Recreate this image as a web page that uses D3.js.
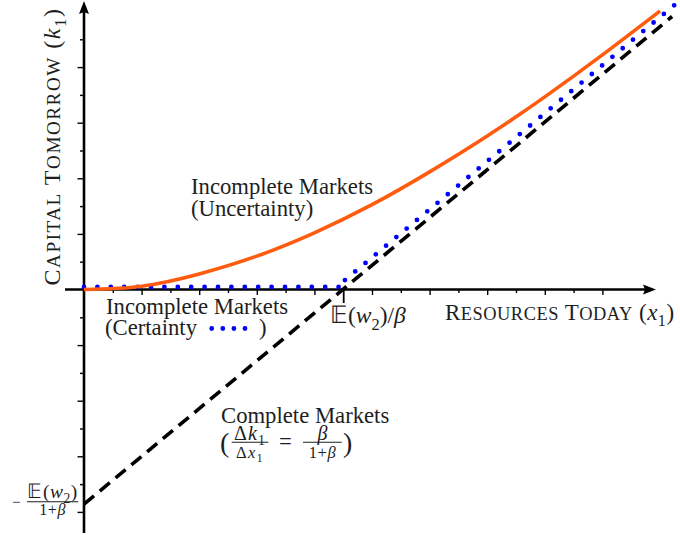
<!DOCTYPE html>
<html>
<head>
<meta charset="utf-8">
<script src="https://cdn.jsdelivr.net/npm/d3@7/dist/d3.min.js"></script>
<style>
  html, body { margin: 0; padding: 0; background: #fff; }
</style>
</head>
<body>
<div id="chart"></div>
<script>
// Data (tick units of the original figure).
var uncertaintyX = [0, 2, 4, 6, 8, 10, 12, 14, 16, 18, 20];
var uncertaintyY = [0, 0.12, 0.56, 1.2, 2.04, 3.05, 4.23, 5.52, 6.93, 8.44, 10.02];
var certaintyFlatX = [0, 9];
var certaintyFlatY = [0.09, 0.09];
var certaintyRiseX = [9.06, 20.5];
var certaintyRiseY = [0.34, 10.23];
var completeX = [0, 20.42];
var completeY = [-7.72, 9.82];
var xMajorTicks = [2, 4, 6, 8, 10, 12, 14, 16, 18];
var xMinorTicks = [1, 3, 5, 7, 11, 13, 15, 17];
var xMarkTick = [9];
var yMajorTicks = [-8, -6, -4, -2, 2, 4, 6, 8];
var yMinorTicks = [-7, -5, -3, -1, 1, 3, 5, 7, 9];

var W = 680, H = 535;
var ORANGE = '#ff5c0f', BLUE = '#0000ff', INK = '#1e1e1e';
var FONT = '"Liberation Serif", "Times New Roman", serif';
var MAIN = 22.7;

var svg = d3.select('#chart').append('svg')
    .attr('width', W)
    .attr('height', H);

var x = d3.scaleLinear().domain([0, 20]).range([84, 660]);
var y = d3.scaleLinear().domain([0, 10]).range([289.5, 11.5]);

function zip(xs, ys) {
    return xs.map(function (d, i) { return [d, ys[i]]; });
}

var line = d3.line()
    .x(function (d) { return x(d[0]); })
    .y(function (d) { return y(d[1]); });

// Text with italic / subscript / small caps parts.
function addText(parent, x0, y0, parts, size, anchor, spacing) {
    var t = parent.append('text')
        .attr('x', x0)
        .attr('y', y0)
        .attr('font-family', FONT)
        .attr('fill', INK)
        .attr('font-size', size)
        .attr('text-anchor', anchor || 'start');
    if (spacing) t.attr('letter-spacing', spacing);
    var shift = 0;
    parts.forEach(function (p) {
        var kind = p[1] || '';
        var s = t.append('tspan').text(p[0]);
        var target = kind === 'sub' ? size * 0.28 : 0;
        if (target !== shift) {
            s.attr('dy', target - shift);
            shift = target;
        }
        if (kind === 'i') s.attr('font-style', 'italic');
        if (kind === 'sub') s.attr('font-size', size * 0.7);
        if (kind === 'sc') s.attr('font-size', size * 0.8);
    });
    return t;
}

function fracBar(parent, x1, x2, yy) {
    parent.append('line')
        .attr('x1', x1).attr('x2', x2)
        .attr('y1', yy).attr('y2', yy)
        .attr('stroke', INK)
        .attr('stroke-width', 1.1);
}

// 1 Ticks (axis generators, no domain path)
function tickAxis(gen, vals, size, tx, ty) {
    var g = svg.append('g')
        .attr('transform', 'translate(' + tx + ',' + ty + ')')
        .call(gen.tickValues(vals).tickSize(size).tickFormat(''));
    g.select('.domain').remove();
    g.selectAll('.tick line').attr('stroke', '#000').attr('stroke-width', 1.4);
    return g;
}
tickAxis(d3.axisBottom(x), xMajorTicks, 5.5, 0, y(0));
tickAxis(d3.axisBottom(x), xMinorTicks, 3.5, 0, y(0));
tickAxis(d3.axisBottom(x), xMarkTick, 13.5, 0, y(0)).selectAll('.tick line').attr('stroke-width', 1.8);
tickAxis(d3.axisLeft(y), yMajorTicks, 6.5, x(0), 0);
tickAxis(d3.axisLeft(y), yMinorTicks, 4, x(0), 0);

// 2 Axis lines with arrow heads
var axes = svg.append('g').attr('stroke', '#000').attr('stroke-width', 2.6);
axes.append('line').attr('x1', 65).attr('x2', 646).attr('y1', y(0)).attr('y2', y(0));
axes.append('line').attr('x1', x(0)).attr('x2', x(0)).attr('y1', 533).attr('y2', 10);
svg.append('path')
    .attr('d', 'M656,' + y(0) + ' L643,' + (y(0) - 5) + ' L645,' + y(0) + ' L643,' + (y(0) + 5) + 'Z')
    .attr('fill', '#000');
svg.append('path')
    .attr('d', 'M' + x(0) + ',1 L' + (x(0) - 5) + ',14 L' + x(0) + ',12 L' + (x(0) + 5) + ',14Z')
    .attr('fill', '#000');

// 3 Series
svg.append('path')
    .datum(zip(completeX, completeY))
    .attr('d', line)
    .attr('fill', 'none')
    .attr('stroke', '#000')
    .attr('stroke-width', 3.6)
    .attr('stroke-dasharray', '13,7.5');

var dotted = [zip(certaintyFlatX, certaintyFlatY), zip(certaintyRiseX, certaintyRiseY)];
svg.selectAll('path.certainty')
    .data(dotted)
    .enter().append('path')
    .attr('class', 'certainty')
    .attr('d', line)
    .attr('fill', 'none')
    .attr('stroke', BLUE)
    .attr('stroke-width', 4.8)
    .attr('stroke-linecap', 'round')
    .attr('stroke-dasharray', '0,13.4');

var curved = d3.line()
    .x(function (d) { return x(d[0]); })
    .y(function (d) { return y(d[1]); })
    .curve(d3.curveNatural);
svg.append('path')
    .datum(zip(uncertaintyX, uncertaintyY))
    .attr('d', curved)
    .attr('fill', 'none')
    .attr('stroke', ORANGE)
    .attr('stroke-width', 3.6);

// 4 Labels
var labels = svg.append('g');
addText(labels, 191, 194, [['Incomplete Markets']], MAIN);
addText(labels, 191, 216, [['(Uncertainty)']], MAIN);

addText(labels, 106, 314, [['Incomplete Markets']], MAIN);
addText(labels, 105, 335, [['(Certainty']], MAIN);
addText(labels, 259, 335, [[')']], MAIN);
labels.append('line')
    .attr('x1', 211.7).attr('x2', 246)
    .attr('y1', 328.5).attr('y2', 328.5)
    .attr('stroke', BLUE)
    .attr('stroke-width', 4.8)
    .attr('stroke-linecap', 'round')
    .attr('stroke-dasharray', '0,11.1');

addText(labels, 330, 323, [['\uD835\uDD3C('], ['w', 'i'], ['2', 'sub'], [')/'], ['\u03B2', 'i']], 23.5);

addText(labels, 445, 320, [['R'], ['ESOURCES', 'sc'], [' T'], ['ODAY', 'sc'], [' ('], ['x', 'i'], ['1', 'sub'], [')']], 23, 'start', 0.5);

// Complete markets slope
addText(labels, 221, 423, [['Complete Markets']], MAIN);
addText(labels, 220, 451.5, [['(']], 28);
fracBar(labels, 231.7, 268.3, 442.3);
addText(labels, 250, 439.5, [['\u0394'], ['k', 'i'], ['1', 'sub']], 20, 'middle', 1);
addText(labels, 250, 457.5, [['\u0394'], ['x', 'i'], ['1', 'sub']], 16.5, 'middle', 1.5);
addText(labels, 279, 449, [['=']], MAIN);
fracBar(labels, 303, 341.7, 442.3);
addText(labels, 322.5, 439.5, [['\u03B2', 'i']], 20, 'middle');
addText(labels, 322.5, 457.5, [['1+'], ['\u03B2', 'i']], 16.5, 'middle', 0.5);
addText(labels, 343, 451.5, [[')']], 28);

// y axis value label
addText(labels, 12, 506.5, [['\u2212']], 15);
fracBar(labels, 27, 78.3, 501.7);
addText(labels, 52.6, 498, [['\uD835\uDD3C('], ['w', 'i'], ['2', 'sub'], [')']], 19.5, 'middle', 0.5);
addText(labels, 52.6, 514.5, [['1+'], ['\u03B2', 'i']], 16, 'middle', 0.5);

// y axis title
var yTitle = svg.append('g').attr('transform', 'translate(59.5,146.5) rotate(-90)');
addText(yTitle, 0, 0, [['C'], ['APITAL', 'sc'], [' T'], ['OMORROW', 'sc'], [' ('], ['k', 'i'], ['1', 'sub'], [')']], 24, 'middle', 1.5);
</script>
</body>
</html>
